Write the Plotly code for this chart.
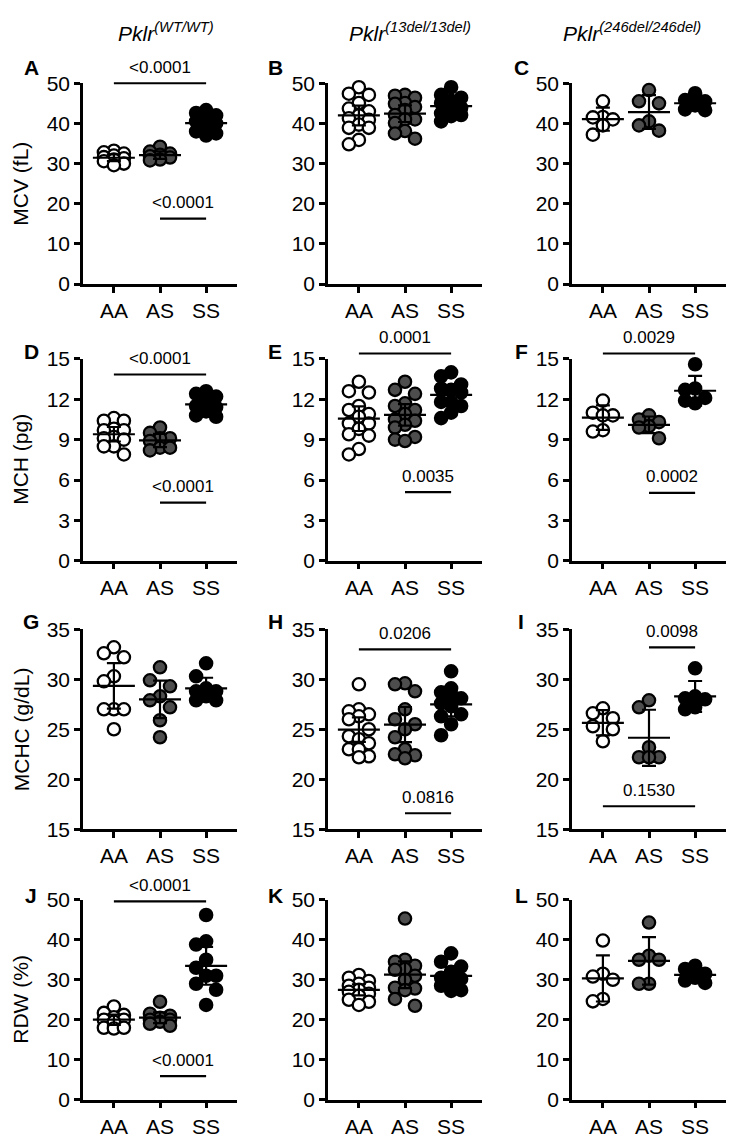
import numpy as np
import plotly.graph_objects as go

# ---------------- data ----------------
GROUPS = ["AA", "AS", "SS"]
COL_TITLES = ["<i>Pklr<sup>(WT/WT)</sup></i>", "<i>Pklr<sup>(13del/13del)</sup></i>",
              "<i>Pklr<sup>(246del/246del)</sup></i>"]
ROW_TITLES = ["MCV (fL)", "MCH (pg)", "MCHC (g/dL)", "RDW (%)"]
PANEL_LETTERS = ["A", "B", "C", "D", "E", "F", "G", "H", "I", "J", "K", "L"]

# MCV
mcv_wt_aa = [33.2, 32.8, 32.5, 32.0, 31.6, 31.3, 31.0, 30.6, 30.0, 29.6]
mcv_wt_as = [34.2, 33.0, 32.5, 32.2, 31.8, 31.5, 31.0, 30.8]
mcv_wt_ss = [43.3, 42.6, 42.0, 41.0, 40.5, 40.0, 39.0, 38.0, 37.5, 37.0]
mcv_13_aa = [49.0, 47.4, 47.1, 45.1, 43.7, 43.0, 42.0, 41.3, 40.9, 39.7, 38.9, 38.9, 35.9, 34.8]
mcv_13_as = [47.1, 46.9, 46.4, 45.1, 44.9, 44.1, 43.3, 42.1, 41.0, 41.0, 40.1, 38.1, 37.5, 36.2]
mcv_13_ss = [49.0, 47.1, 46.4, 45.6, 45.1, 43.9, 43.3, 42.5, 42.1, 41.8, 40.5]
mcv_246_aa = [45.5, 41.6, 41.5, 41.0, 39.5, 37.2]
mcv_246_as = [48.3, 45.5, 45.0, 40.5, 39.5, 38.2]
mcv_246_ss = [47.5, 45.8, 45.5, 44.5, 43.5, 43.3]
# MCH
mch_wt_aa = [10.6, 10.4, 10.4, 9.8, 9.7, 9.7, 9.2, 9.1, 9.0, 8.5, 8.5, 7.9]
mch_wt_as = [9.9, 9.5, 9.1, 9.1, 8.9, 8.4, 8.4, 8.2]
mch_wt_ss = [12.6, 12.4, 12.2, 11.9, 11.5, 11.4, 11.1, 10.8, 10.7]
mch_13_aa = [13.3, 12.6, 12.5, 11.5, 11.2, 10.9, 10.7, 10.2, 10.2, 9.8, 9.4, 9.3, 8.3, 7.9]
mch_13_as = [13.3, 12.7, 12.4, 11.7, 11.5, 11.2, 10.9, 10.5, 10.4, 10.1, 9.9, 9.2, 9.0, 8.9]
mch_13_ss = [14.0, 13.7, 13.1, 12.8, 12.7, 12.5, 11.8, 11.8, 11.5, 11.0, 10.6]
mch_246_aa = [11.9, 11.0, 10.8, 10.8, 9.7, 9.6]
mch_246_as = [10.8, 10.5, 10.3, 10.0, 9.9, 9.1]
mch_246_ss = [14.6, 12.8, 12.7, 12.1, 11.9, 11.7]
# MCHC
mchc_wt_aa = [33.2, 32.6, 32.2, 30.3, 29.8, 27.0, 27.0, 27.0, 25.0]
mchc_wt_as = [31.2, 29.9, 29.3, 28.3, 27.9, 27.2, 25.9, 24.2]
mchc_wt_ss = [31.6, 30.3, 29.1, 28.8, 28.8, 28.3, 27.9, 27.9]
mchc_13_aa = [29.5, 27.0, 26.8, 26.5, 26.3, 26.0, 25.0, 24.3, 24.0, 23.6, 23.0, 23.0, 22.3, 22.2]
mchc_13_as = [29.6, 29.5, 28.8, 27.0, 26.0, 25.5, 25.0, 24.2, 23.0, 22.5, 22.4, 22.1]
mchc_13_ss = [30.8, 29.1, 28.7, 28.1, 28.1, 27.6, 27.3, 26.5, 26.3, 25.5, 24.4]
mchc_246_aa = [27.1, 26.6, 26.1, 25.3, 25.0, 23.8]
mchc_246_as = [27.9, 27.2, 23.2, 22.2, 22.2, 22.2]
mchc_246_ss = [31.1, 28.3, 28.1, 28.0, 27.2, 27.0]
# RDW
rdw_wt_aa = [23.3, 21.7, 21.2, 20.6, 20.0, 20.0, 19.5, 18.0, 17.8, 18.0]
rdw_wt_as = [24.5, 21.5, 21.0, 20.5, 20.0, 20.0, 19.5, 19.0, 18.5]
rdw_wt_ss = [46.2, 39.6, 38.8, 35.0, 33.0, 31.0, 31.0, 29.0, 27.5, 23.7]
rdw_13_aa = [31.2, 30.5, 29.7, 29.0, 28.5, 28.0, 27.5, 27.0, 26.5, 26.0, 25.0, 24.5, 23.7]
rdw_13_as = [45.3, 35.0, 34.5, 33.5, 32.7, 32.5, 31.0, 30.0, 28.0, 27.8, 27.4, 25.2, 23.5]
rdw_13_ss = [36.6, 34.5, 33.3, 32.0, 30.5, 30.2, 29.5, 28.5, 27.4, 27.2]
rdw_246_aa = [39.8, 31.5, 30.8, 30.0, 25.2, 24.6]
rdw_246_as = [44.3, 36.0, 35.0, 35.0, 29.0, 29.0]
rdw_246_ss = [33.5, 32.7, 31.5, 30.5, 29.8, 29.2]

PANEL_DATA = [
    [mcv_wt_aa, mcv_wt_as, mcv_wt_ss], [mcv_13_aa, mcv_13_as, mcv_13_ss], [mcv_246_aa, mcv_246_as, mcv_246_ss],
    [mch_wt_aa, mch_wt_as, mch_wt_ss], [mch_13_aa, mch_13_as, mch_13_ss], [mch_246_aa, mch_246_as, mch_246_ss],
    [mchc_wt_aa, mchc_wt_as, mchc_wt_ss], [mchc_13_aa, mchc_13_as, mchc_13_ss], [mchc_246_aa, mchc_246_as, mchc_246_ss],
    [rdw_wt_aa, rdw_wt_as, rdw_wt_ss], [rdw_13_aa, rdw_13_as, rdw_13_ss], [rdw_246_aa, rdw_246_as, rdw_246_ss],
]

# y-axis ranges and ticks per row
ROW_RANGES = [[0, 50], [0, 15], [15, 35], [0, 50]]
ROW_TICKS = [[0, 10, 20, 30, 40, 50], [0, 3, 6, 9, 12, 15], [15, 20, 25, 30, 35], [0, 10, 20, 30, 40, 50]]

# significance brackets: (panel index, x-start group, x-end group, y level, p-value text)
sig_panel = [0, 0, 3, 3, 4, 4, 5, 5, 7, 7, 8, 8, 9, 9]
sig_x0 = [0, 1, 0, 1, 0, 1, 0, 1, 0, 1, 1, 0, 0, 1]
sig_x1 = [2, 2, 2, 2, 2, 2, 2, 2, 2, 2, 2, 2, 2, 2]
sig_y = [50.0, 16.3, 13.84, 4.32, 15.4, 5.1, 15.4, 5.05, 33.0, 16.6, 33.2, 17.3, 49.6, 5.9]
sig_text = ["<0.0001", "<0.0001", "<0.0001", "<0.0001", "0.0001", "0.0035", "0.0029", "0.0002",
            "0.0206", "0.0816", "0.0098", "0.1530", "<0.0001", "<0.0001"]

T975 = {1: 12.706, 2: 4.303, 3: 3.182, 4: 2.776, 5: 2.571, 6: 2.447, 7: 2.365, 8: 2.306,
        9: 2.262, 10: 2.228, 11: 2.201, 12: 2.179, 13: 2.160, 14: 2.145, 15: 2.131}

# ---------------- layout geometry ----------------
W, H = 742, 1144
COL_PX = [(83, 237), (328, 482), (572, 726)]
ROW_PX = [(72.7, 277.7), (354, 560), (630, 834), (906, 1110)]
XRANGE = [-0.67, 2.67]
FILLS = ["white", "#4d4d4d", "black"]
FONT = "Arial, 'Liberation Sans', Helvetica, sans-serif"
MARKER_SIZE = 12.3
MARKER_LINE = 2.3


def swarm_offsets(vals, px_per_unit, px_per_cat, diam=14.0, step_px=10):
    vals = np.asarray(vals, dtype=float)
    order = np.argsort(-vals, kind="stable")
    placed = []
    offs = np.zeros(len(vals))
    for i in order:
        y = vals[i] * px_per_unit
        best, bestd = 0, -1.0
        for k in (0, -1, 1):
            x = k * step_px
            d = min([np.hypot(x - px, y - py) for px, py in placed], default=1e9)
            if d >= diam:
                best = k
                break
            if d > bestd:
                bestd, best = d, k
        offs[i] = best * step_px / px_per_cat
        placed.append((best * step_px, y))
    return offs


fig = go.Figure()
layout_axes = {}

for p in range(12):
    r, c = divmod(p, 3)
    ax_id = "" if p == 0 else str(p + 1)
    xname, yname = "x" + ax_id, "y" + ax_id
    x0px, x1px = COL_PX[c]
    t0px, b0px = ROW_PX[r]
    yr = ROW_RANGES[r]
    px_per_cat = (x1px - x0px) / (XRANGE[1] - XRANGE[0])
    px_per_unit = (b0px - t0px) / (yr[1] - yr[0])

    for g in range(3):
        vals = np.asarray(PANEL_DATA[p][g], dtype=float)
        offs = swarm_offsets(vals, px_per_unit, px_per_cat)
        fig.add_trace(go.Scatter(
            x=g + offs, y=vals, mode="markers", xaxis=xname, yaxis=yname, showlegend=False,
            hoverinfo="skip", cliponaxis=False,
            marker=dict(size=MARKER_SIZE, color=FILLS[g], line=dict(color="black", width=MARKER_LINE)),
        ))
    for g in range(3):
        vals = np.asarray(PANEL_DATA[p][g], dtype=float)
        n = len(vals)
        m = vals.mean()
        ci = T975[n - 1] * vals.std(ddof=1) / np.sqrt(n)
        fig.add_trace(go.Scatter(
            x=[g], y=[m], mode="markers", xaxis=xname, yaxis=yname, showlegend=False,
            hoverinfo="skip", cliponaxis=False,
            marker=dict(symbol="line-ew", size=30, color="black", line=dict(color="black", width=2.2)),
            error_y=dict(type="data", array=[ci], symmetric=True, color="black", thickness=2.2, width=7),
        ))

    layout_axes["xaxis" + ax_id] = dict(
        domain=[x0px / W, x1px / W], anchor=yname, range=XRANGE, tickvals=[0, 1, 2], ticktext=GROUPS,
        showline=True, linecolor="black", linewidth=2.5, ticks="outside", ticklen=6, tickwidth=2.5,
        tickcolor="black", showgrid=False, zeroline=False, fixedrange=True,
        tickfont=dict(family=FONT, size=21, color="black"),
    )
    layout_axes["yaxis" + ax_id] = dict(
        domain=[1 - b0px / H, 1 - t0px / H], anchor=xname, range=yr, tickvals=ROW_TICKS[r],
        showline=True, linecolor="black", linewidth=2.5, ticks="outside", ticklen=6, tickwidth=2.5,
        tickcolor="black", showgrid=False, zeroline=False, fixedrange=True,
        tickfont=dict(family=FONT, size=21, color="black"),
    )

fig.update_layout(**layout_axes)

shapes, annotations = [], []
for i in range(len(sig_panel)):
    p = sig_panel[i]
    r = p // 3
    ax_id = "" if p == 0 else str(p + 1)
    yr = ROW_RANGES[r]
    yd = (sig_y[i] - yr[0]) / (yr[1] - yr[0])
    shapes.append(dict(type="line", xref="x" + ax_id, yref="y" + ax_id + " domain",
                       x0=sig_x0[i], x1=sig_x1[i], y0=yd, y1=yd,
                       line=dict(color="black", width=2.2)))
    annotations.append(dict(xref="x" + ax_id, yref="y" + ax_id + " domain",
                            x=(sig_x0[i] + sig_x1[i]) / 2, y=yd, yshift=16, text=sig_text[i],
                            showarrow=False, xanchor="center", yanchor="middle",
                            font=dict(family=FONT, size=17, color="black")))

# column titles
title_x = [166, 410, 632]
for c in range(3):
    annotations.append(dict(xref="paper", yref="paper", x=title_x[c] / W, y=1 - 20 / H,
                            text=COL_TITLES[c], showarrow=False, xanchor="center", yanchor="middle",
                            font=dict(family=FONT, size=21, color="black")))
# row (y-axis) titles
for r in range(4):
    t0px, b0px = ROW_PX[r]
    annotations.append(dict(xref="paper", yref="paper", x=21 / W, y=1 - (t0px + b0px) / 2 / H,
                            text=ROW_TITLES[r], textangle=-90, showarrow=False,
                            xanchor="center", yanchor="middle",
                            font=dict(family=FONT, size=21, color="black")))
# panel letters
letter_x = [31, 275, 521]
letter_y = [57, 346, 622, 902]
for p in range(12):
    r, c = divmod(p, 3)
    annotations.append(dict(xref="paper", yref="paper", x=letter_x[c] / W, y=1 - letter_y[r] / H,
                            text="<b>" + PANEL_LETTERS[p] + "</b>", showarrow=False,
                            xanchor="center", yanchor="middle",
                            font=dict(family=FONT, size=21, color="black")))

fig.update_layout(
    width=W, height=H, autosize=False, margin=dict(l=0, r=0, t=0, b=0),
    paper_bgcolor="white", plot_bgcolor="white", showlegend=False,
    shapes=shapes, annotations=annotations,
    font=dict(family=FONT, color="black"),
)

fig.write_html("out.html", config={"displayModeBar": False})
